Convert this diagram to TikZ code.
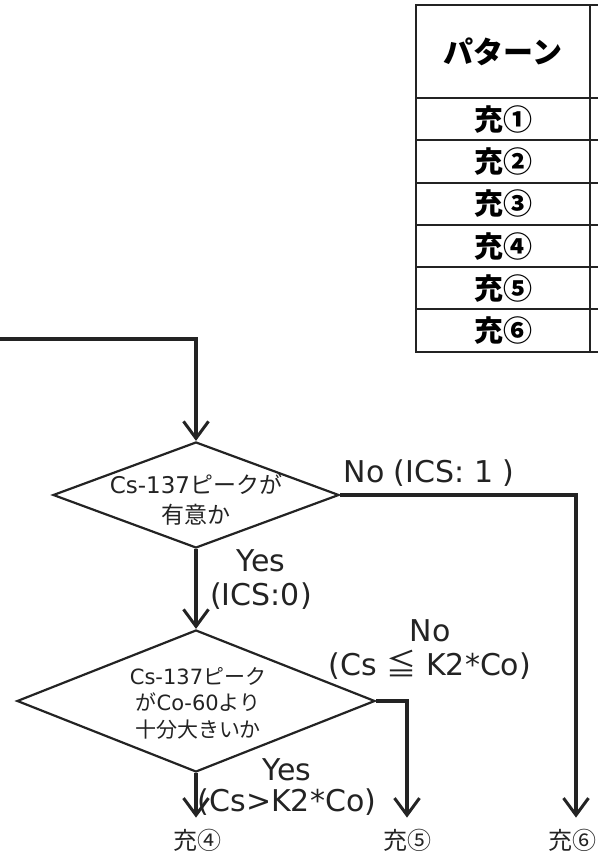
\documentclass[tikz,border=0pt]{standalone}
\usepackage{fontspec}
\setmainfont{DejaVu Sans}
\newfontfamily\jpfont{Noto Sans CJK JP}
\usepackage{tikz}
\usetikzlibrary{shapes.geometric, positioning, arrows.meta}
\definecolor{FlowInk}{RGB}{35,35,35}

\begin{document}
\begin{tikzpicture}[x=1pt, y=1pt,
          decision/.style={diamond, draw=FlowInk, line width=2.2pt,
                           inner sep=0pt},
          qtext/.style={align=center, text=FlowInk},
          cell/.style={rectangle, draw=FlowInk, line width=2pt,
                       outer sep=0pt, minimum width=174pt,
                       minimum height=42.3pt,
                       font=\jpfont\bfseries\fontsize{29}{32}\selectfont},
          lbl/.style={align=center, text=FlowInk},
          dest/.style={font=\jpfont\fontsize{24}{26}\selectfont,
                       text=FlowInk, inner sep=1pt},
          conn/.style={line width=3.2pt, FlowInk},
          arr/.style={conn, -{Straight Barb[length=17pt, width=25pt,
                                            line width=3pt]}}
        ]
        \useasboundingbox (0,0) rectangle (598,855);

        % pattern table (cut at the right edge)
        \node[cell, minimum height=93pt,
              font=\jpfont\bfseries\fontsize{30}{34}\selectfont]
              (hdr) at (503,803.5) {パターン};
        \node[cell, below=0pt of hdr] (r1) {充①};
        \foreach \i/\j in {1/2, 2/3, 3/4, 4/5, 5/6} {
          \node[cell, below=0pt of r\i] (r\j) {充\ifcase\j\or①\or②\or③\or④\or⑤\or⑥\fi};
        }
        \foreach \n in {hdr, r1, r2, r3, r4, r5, r6} {
          \draw[FlowInk, line width=2pt] (\n.north east) -- ++(8,0);
        }
        \draw[FlowInk, line width=2pt] (r6.south east) -- ++(8,0);

        % decisions
        \node[decision, minimum width=286pt, minimum height=106pt]
              (q1) at (196,360) {};
        \node[qtext, font=\fontsize{23}{30}\selectfont] (q1t) at (196,355)
              {Cs-137{\jpfont ピークが}\\{\jpfont 有意か}};
        \node[decision, minimum width=358pt, minimum height=142pt]
              (q2) at (196,154) {};
        \node[qtext, font=\fontsize{21}{26.5}\selectfont] (q2t) at (198,152)
              {Cs-137{\jpfont ピーク}\\{\jpfont が}Co-60{\jpfont より}\\{\jpfont 十分大きいか}};

        % end points
        \node[dest] (p4) at (197,15) {充④};
        \node[dest] (p5) at (407,15) {充⑤};
        \node[dest] (p6) at (572,15) {充⑥};
        \coordinate (in) at (0,516);

        % connectors
        \draw[arr] (in) -| (q1.north);
        \draw[arr, shorten >=10pt] (q1.east) -| (p6.north -| 576,0);
        \draw[arr] (q1.south) -- (q2.north);
        \draw[arr, shorten >=10pt] (q2.east) -| (p5.north);
        \draw[arr, shorten >=10pt] (q2.south) -- (p4.north -| q2.south);

        % branch labels
        \node[lbl, font=\fontsize{30}{34}\selectfont] (no1) at (429,382)
              {No (ICS: 1 )};
        \node[lbl, font=\fontsize{30}{34}\selectfont] (yes1) at (261,275)
              {Yes\\(ICS:0)};
        \node[lbl, font=\fontsize{30}{34}\selectfont] (no2) at (430,205)
              {No\\(Cs {\jpfont ≦} K2*Co)};
        \node[lbl, font=\fontsize{30}{31}\selectfont] (yes2) at (287,68)
              {Yes\\(Cs>K2*Co)};
      \end{tikzpicture}
\end{document}
